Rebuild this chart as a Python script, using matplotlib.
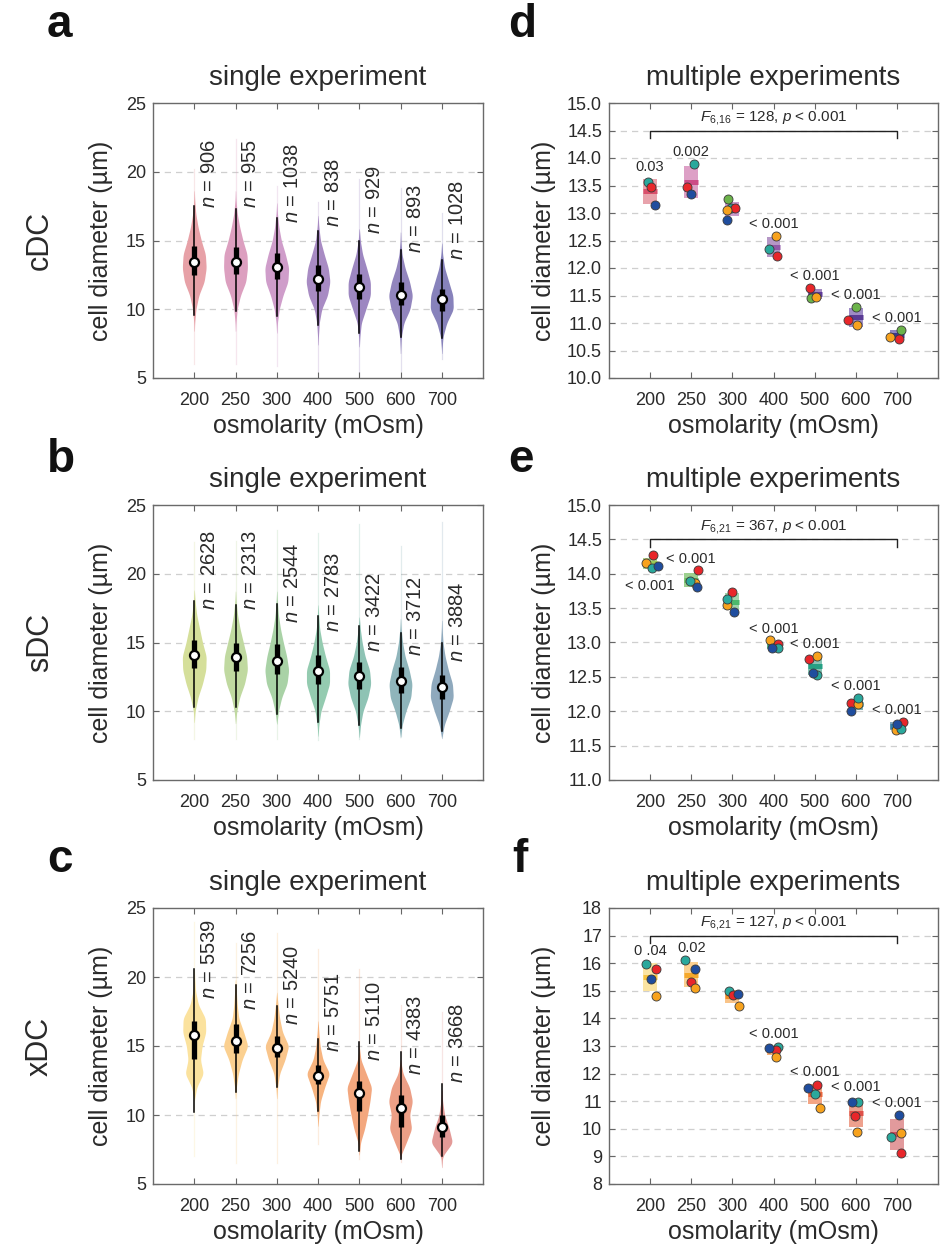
import numpy as np
import matplotlib
matplotlib.use("Agg")
import matplotlib.pyplot as plt
from matplotlib.patches import Rectangle

plt.rcParams['font.family'] = ['Liberation Sans', 'DejaVu Sans']
plt.rcParams['mathtext.fontset'] = 'custom'
plt.rcParams['mathtext.rm'] = 'Liberation Sans'
plt.rcParams['mathtext.it'] = 'Liberation Sans:italic'
plt.rcParams['text.color'] = '#2a2a2a'
plt.rcParams['axes.labelcolor'] = '#2a2a2a'
plt.rcParams['xtick.color'] = '#666666'
plt.rcParams['ytick.color'] = '#666666'
plt.rcParams['xtick.labelcolor'] = '#2a2a2a'
plt.rcParams['ytick.labelcolor'] = '#2a2a2a'

osm = ['200', '250', '300', '400', '500', '600', '700']

# ---------- single experiment (violins) ----------
# half widths of each violin read at y = 6, 7, ..., 21 um
y_knots = np.arange(6, 22)

prof_a = [
    [0, 0, 0, 0.01, 0.04, 0.11, 0.24, 0.29, 0.27, 0.17, 0.09, 0.035, 0.01, 0, 0, 0],
    [0, 0, 0, 0.01, 0.04, 0.12, 0.25, 0.29, 0.28, 0.18, 0.10, 0.04, 0.01, 0, 0, 0],
    [0, 0, 0, 0.015, 0.06, 0.15, 0.27, 0.29, 0.21, 0.11, 0.05, 0.015, 0, 0, 0, 0],
    [0, 0, 0.01, 0.03, 0.09, 0.23, 0.29, 0.25, 0.15, 0.06, 0.02, 0, 0, 0, 0, 0],
    [0, 0, 0.015, 0.05, 0.16, 0.27, 0.27, 0.18, 0.08, 0.025, 0, 0, 0, 0, 0, 0],
    [0, 0.005, 0.02, 0.08, 0.23, 0.29, 0.22, 0.11, 0.035, 0.01, 0, 0, 0, 0, 0, 0],
    [0, 0.005, 0.03, 0.12, 0.28, 0.27, 0.17, 0.07, 0.02, 0, 0, 0, 0, 0, 0, 0],
]
prof_b = [
    [0, 0, 0, 0, 0.02, 0.09, 0.20, 0.28, 0.29, 0.20, 0.13, 0.06, 0.02, 0, 0, 0],
    [0, 0, 0, 0, 0.03, 0.10, 0.22, 0.29, 0.27, 0.19, 0.11, 0.05, 0.015, 0, 0, 0],
    [0, 0, 0, 0, 0.04, 0.12, 0.25, 0.29, 0.24, 0.16, 0.09, 0.04, 0.015, 0, 0, 0],
    [0, 0, 0, 0.02, 0.07, 0.18, 0.28, 0.28, 0.18, 0.10, 0.04, 0.015, 0, 0, 0, 0],
    [0, 0, 0, 0.03, 0.09, 0.21, 0.28, 0.25, 0.14, 0.07, 0.025, 0, 0, 0, 0, 0],
    [0, 0, 0, 0.04, 0.13, 0.25, 0.28, 0.21, 0.11, 0.05, 0.015, 0, 0, 0, 0, 0],
    [0, 0, 0, 0.06, 0.18, 0.28, 0.26, 0.16, 0.08, 0.03, 0.01, 0, 0, 0, 0, 0],
]
prof_c = [
    [0, 0, 0, 0, 0, 0, 0.06, 0.22, 0.15, 0.19, 0.28, 0.27, 0.10, 0.03, 0.01, 0],
    [0, 0, 0, 0, 0, 0, 0.02, 0.07, 0.16, 0.30, 0.20, 0.08, 0.04, 0.02, 0, 0],
    [0, 0, 0, 0, 0, 0, 0.02, 0.07, 0.20, 0.29, 0.14, 0.07, 0.03, 0, 0, 0],
    [0, 0, 0, 0, 0.02, 0.06, 0.16, 0.28, 0.12, 0.05, 0.02, 0, 0, 0, 0, 0],
    [0, 0, 0.03, 0.13, 0.20, 0.26, 0.30, 0.17, 0.04, 0, 0, 0, 0, 0, 0, 0],
    [0, 0, 0.14, 0.27, 0.22, 0.29, 0.22, 0.06, 0, 0, 0, 0, 0, 0, 0, 0],
    [0, 0.02, 0.26, 0.18, 0.07, 0.02, 0, 0, 0, 0, 0, 0, 0, 0, 0, 0],
]

min_a = [6.0, 6.0, 5.9, 5.5, 5.0, 5.5, 6.4]
max_a = [20.2, 22.4, 19.0, 17.8, 19.5, 18.8, 17.0]
med_a = [13.45, 13.46, 13.1, 12.23, 11.65, 11.07, 10.73]
q1_a = [12.5, 12.55, 12.2, 11.3, 10.76, 10.3, 9.9]
q3_a = [14.6, 14.55, 14.1, 13.2, 12.57, 11.96, 11.5]
wlo_a = [9.6, 9.84, 9.5, 8.85, 8.3, 8.0, 7.9]
whi_a = [17.5, 17.26, 16.6, 15.7, 15.0, 14.3, 13.6]
n_a = [906, 955, 1038, 838, 929, 893, 1028]

min_b = [8.0, 8.0, 8.0, 7.9, 8.0, 8.2, 8.2]
max_b = [22.3, 22.4, 23.2, 23.0, 23.6, 22.0, 23.8]
med_b = [14.09, 13.92, 13.65, 12.95, 12.56, 12.2, 11.74]
q1_b = [13.17, 12.95, 12.7, 11.98, 11.6, 11.35, 10.9]
q3_b = [15.18, 14.94, 14.87, 14.07, 13.56, 13.2, 12.64]
wlo_b = [10.33, 10.3, 9.78, 9.2, 9.0, 8.8, 8.6]
whi_b = [18.0, 17.7, 17.8, 16.9, 16.2, 15.7, 15.0]
n_b = [2628, 2313, 2544, 2783, 3422, 3712, 3884]

min_c = [7.0, 6.5, 6.5, 7.9, 6.8, 6.6, 6.8]
max_c = [24.0, 22.5, 23.2, 22.0, 20.6, 18.0, 17.5]
med_c = [15.79, 15.33, 14.84, 12.84, 11.58, 10.49, 9.11]
q1_c = [14.04, 14.5, 14.2, 12.23, 10.32, 9.16, 8.38]
q3_c = [16.78, 16.6, 15.74, 13.63, 12.43, 11.46, 10.0]
wlo_c = [10.25, 11.7, 12.06, 10.32, 7.42, 6.8, 7.03]
whi_c = [20.6, 19.44, 17.87, 15.5, 15.3, 14.53, 12.25]
n_c = [5539, 7256, 5240, 5751, 5110, 4383, 3668]

# where the rotated n labels start (um)
nlab_a = [17.4, 17.4, 16.3, 16.0, 15.5, 14.1, 13.6]
nlab_b = [17.4, 17.4, 16.4, 15.8, 14.3, 14.0, 13.6]
nlab_c = [18.4, 17.6, 16.5, 14.6, 13.9, 12.9, 12.3]

col_a = ['#e7a1a7', '#dc9fbf', '#cf9dca', '#a88bc3', '#9d87c1', '#9285bd', '#8782bb']
col_b = ['#d5df9a', '#c0d9a0', '#a9d2a6', '#94cbb0', '#8ec3b4', '#8fb5bb', '#8fa9bd']
col_c = ['#fbe29e', '#fbd090', '#f9c58b', '#f7b47f', '#f3a77e', '#ec9f86', '#e39a97']

# ---------- multiple experiments ----------
exp_d = ['#6cb34a', '#2aa89c', '#e8262a', '#f7a21d', '#1f4d9e']  # green, teal, red, orange, blue
nan = np.nan
val_d = [
    [nan, nan, 13.25, nan, 11.46, 11.30, 10.88],
    [13.56, 13.90, 13.10, 12.34, nan, nan, nan],
    [13.48, 13.47, 13.10, 12.22, 11.64, 11.05, 10.71],
    [nan, nan, 13.05, 12.59, 11.48, 10.97, 10.74],
    [13.14, 13.34, 12.88, nan, nan, nan, nan],
]
jit_d = [
    [0, 0, -0.10, 0, -0.08, 0.0, 0.11],
    [-0.06, 0.06, -0.03, -0.10, 0, 0, 0],
    [0.02, -0.10, 0.06, 0.08, -0.11, -0.18, 0.04],
    [0, 0, -0.13, 0.06, 0.03, 0.04, -0.16],
    [0.12, 0.0, -0.12, 0, 0, 0, 0],
]
p_d = ['0.03', '0.002', '', '< 0.001', '< 0.001', '< 0.001', '< 0.001']
stat_d = r'$F_{6,\!16}$ = 128, $p$ < 0.001'

exp_e = ['#e8262a', '#f7a21d', '#2aa89c', '#1f4d9e']  # red, orange, teal, blue
val_e = [
    [14.27, 14.05, 13.74, 12.98, 12.76, 12.12, 11.84],
    [14.15, 13.87, 13.55, 13.03, 12.80, 12.10, 11.73],
    [14.08, 13.89, 13.63, 12.92, 12.53, 12.19, 11.74],
    [14.11, 13.81, 13.45, 12.92, 12.55, 12.00, 11.82],
]
jit_e = [
    [0.06, 0.16, 0.0, 0.12, -0.14, -0.11, 0.16],
    [-0.10, 0.08, -0.12, -0.09, 0.05, 0.06, -0.02],
    [0.05, -0.02, -0.13, 0.10, 0.05, 0.06, 0.10],
    [0.18, 0.14, 0.03, -0.04, -0.03, -0.11, 0.0],
]
p_e = ['< 0.001', '< 0.001', '', '< 0.001', '< 0.001', '< 0.001', '< 0.001']
stat_e = r'$F_{6,\!21}$ = 367, $p$ < 0.001'

exp_f = ['#2aa89c', '#e8262a', '#1f4d9e', '#f7a21d']  # teal, red, blue, orange
val_f = [
    [15.97, 16.13, 15.01, 12.98, 11.26, 10.97, 9.72],
    [15.79, 15.32, 14.84, 12.86, 11.58, 10.47, 9.11],
    [15.42, 15.79, 14.89, 12.92, 11.47, 10.97, 10.50],
    [14.80, 15.10, 14.46, 12.59, 10.77, 9.90, 9.86],
]
jit_f = [
    [-0.10, -0.14, -0.07, 0.10, 0.01, 0.06, -0.14],
    [0.14, 0.0, 0.01, 0.06, 0.06, -0.02, 0.09],
    [0.02, 0.08, 0.14, -0.11, -0.15, -0.10, 0.06],
    [0.14, 0.10, 0.15, 0.07, 0.14, 0.03, 0.10],
]
p_f = ['0 .04', '0.02', '', '< 0.001', '< 0.001', '< 0.001', '< 0.001']
stat_f = r'$F_{6,\!21}$ = 127, $p$ < 0.001'

box_d = ['#e8a3ac', '#dda0c6', '#c99bca', '#b597c6', '#a48ac2', '#9e8cc6', '#8f86c0']
band_d = ['#d94f6b', '#cc4a86', '#a8389c', '#9058a8', '#5e3a98', '#5a3b95', '#3c3590']
box_e = ['#b5d68c', '#9dd08f', '#a0d4ab', '#7cc4a3', '#86c4b5', '#7bb3b3', '#82a8bc']
band_e = ['#9ccc5a', '#6abf60', '#4cb96c', '#2ea07a', '#26a084', '#228f96', '#2f7fa8']
box_f = ['#fbe4a2', '#fbd090', '#f9c489', '#f7b07a', '#f4a584', '#eea18e', '#e29a9c']
band_f = ['#f7c23e', '#f5a82a', '#f08a22', '#ec7a2c', '#e8653a', '#df5048', '#cf4a5c']

fig = plt.figure(figsize=(9.4, 12.45), dpi=100)
W, H = 940.0, 1245.0


def add_ax(left, top, right, bottom):
    return fig.add_axes([left / W, 1 - bottom / H, (right - left) / W, (bottom - top) / H])


def style(ax, ylim, yticks, ylabels, title, ylab_x):
    ax.set_xlim(0, 8)
    ax.set_ylim(ylim)
    ax.set_xticks(range(1, 8))
    ax.set_xticklabels(osm)
    ax.set_yticks(yticks)
    ax.set_yticklabels(ylabels)
    ax.tick_params(direction='in', top=True, right=True, length=4, width=0.8, labelsize=13)
    ax.tick_params(axis='x', pad=10)
    ax.tick_params(axis='y', pad=5)
    for sp in ax.spines.values():
        sp.set_color('#6a6a6a')
        sp.set_linewidth(1.0)
    for t in yticks[1:-1]:
        ax.axhline(t, color='#cfcfcf', lw=0.9, ls=(0, (5, 4)), zorder=0)
    ax.set_title(title, fontsize=20, pad=13)
    ax.set_xlabel('osmolarity (mOsm)', fontsize=18)
    ax.set_ylabel('cell diameter (µm)', fontsize=18)
    ax.xaxis.set_label_coords(0.5, -0.13)
    ax.yaxis.set_label_coords(ylab_x, 0.5)


def violins(ax, prof, lo, hi, med, q1, q3, wlo, whi, cols, nval, nlab):
    yf = np.arange(y_knots[0], y_knots[-1], 0.02)
    k = np.ones(25) / 25.0
    for i in range(7):
        x = i + 1
        ax.plot([x, x], [lo[i], hi[i]], color=cols[i], lw=0.9, alpha=0.25, zorder=1)
        w = np.convolve(np.interp(yf, y_knots, prof[i]), k, mode='same')
        ax.fill_betweenx(yf, x - w, x + w, where=w > 0.004, interpolate=True,
                         color=cols[i], lw=0, zorder=2)
        ax.plot([x, x], [wlo[i], whi[i]], color='black', lw=1.1, zorder=3)
        ax.plot([x, x], [q1[i], q3[i]], color='black', lw=3.8, solid_capstyle='butt', zorder=4)
        ax.plot(x, med[i], 'o', mfc='white', mec='black', ms=6.5, mew=1.6, zorder=5)
        ax.text(x + 0.37, nlab[i], r'$n$ = %d' % nval[i], rotation=90,
                ha='center', va='bottom', fontsize=14.5, zorder=6)


def multi(ax, vals, jits, ecols, boxc, bandc, plab, below, stat, bracket_y, ylim):
    vals = np.array(vals)
    jits = np.array(jits)
    yr = ylim[1] - ylim[0]
    for i in range(7):
        x = i + 1
        v = vals[:, i]
        ok = ~np.isnan(v)
        m = v[ok].mean()
        s = v[ok].std(ddof=1)
        ax.add_patch(Rectangle((x - 0.17, m - s), 0.34, 2 * s, fc=boxc[i], ec='none', zorder=2))
        ax.hlines(m, x - 0.17, x + 0.17, color=bandc[i], lw=3.6, zorder=3)
        for j in range(len(ecols)):
            if ok[j]:
                ax.plot(x + jits[j, i], v[j], 'o', mfc=ecols[j], mec='#3a3a3a', mew=0.6,
                        ms=6.5, zorder=4)
        if plab[i]:
            if i in below:
                ya = min(m - s, v[ok].min())
                off = -12
            else:
                ya = max(m + s, v[ok].max())
                off = 8.5
            ax.annotate(plab[i], (x, ya), xytext=(0, off), textcoords='offset points',
                        ha='center', va='center', fontsize=10.5)
    d = 0.028 * yr
    ax.plot([1, 1, 7, 7], [bracket_y - d, bracket_y, bracket_y, bracket_y - d],
            color='#222222', lw=1.0, zorder=3)
    ax.annotate(stat, (4, bracket_y), xytext=(0, 6.5), textcoords='offset points',
                ha='center', va='baseline', fontsize=11)


rows = [(103, 378), (505, 780), (908, 1184)]
vl = [
    (prof_a, min_a, max_a, med_a, q1_a, q3_a, wlo_a, whi_a, col_a, n_a, nlab_a),
    (prof_b, min_b, max_b, med_b, q1_b, q3_b, wlo_b, whi_b, col_b, n_b, nlab_b),
    (prof_c, min_c, max_c, med_c, q1_c, q3_c, wlo_c, whi_c, col_c, n_c, nlab_c),
]
for (top, bot), args in zip(rows, vl):
    ax = add_ax(153, top, 483, bot)
    violins(ax, *args)
    style(ax, (5, 25), [5, 10, 15, 20, 25], ['5', '10', '15', '20', '25'],
          'single experiment', -0.12)

# multiple experiments
yt_d = np.arange(10, 15.01, 0.5)
ax = add_ax(609, 103, 938, 378)
multi(ax, val_d, jit_d, exp_d, box_d, band_d, p_d, [], stat_d, 14.5, (10, 15))
style(ax, (10, 15), yt_d, ['%.1f' % t for t in yt_d], 'multiple experiments', -0.16)

yt_e = np.arange(11, 15.01, 0.5)
ax = add_ax(609, 505, 938, 780)
multi(ax, val_e, jit_e, exp_e, box_e, band_e, p_e, [0], stat_e, 14.5, (11, 15))
style(ax, (11, 15), yt_e, ['%.1f' % t for t in yt_e], 'multiple experiments', -0.16)

yt_f = np.arange(8, 18.01, 1)
ax = add_ax(609, 908, 938, 1184)
multi(ax, val_f, jit_f, exp_f, box_f, band_f, p_f, [], stat_f, 17.0, (8, 18))
style(ax, (8, 18), yt_f, ['%d' % t for t in yt_f], 'multiple experiments', -0.16)

# panel letters and row labels
for lab, x, y in [('a', 47, 37), ('b', 47, 472), ('c', 47, 872),
                  ('d', 508, 37), ('e', 508, 472), ('f', 512, 872)]:
    fig.text(x / W, 1 - y / H, lab, fontsize=33, fontweight='bold', ha='left', va='baseline',
             color='#111111')
for lab, y in [('cDC', 240), ('sDC', 642), ('xDC', 1046)]:
    fig.text(40 / W, 1 - y / H, lab, fontsize=22, rotation=90, ha='center', va='center')

fig.savefig('out.png', dpi=100, facecolor='white')
